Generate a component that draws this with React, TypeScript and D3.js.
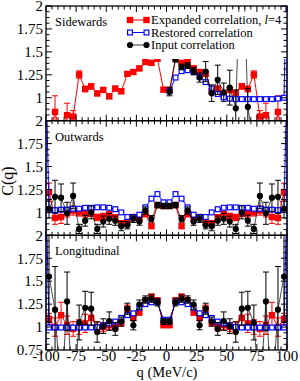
import React from "react";
import * as d3 from "d3";

// q bins (MeV/c)
const Q = [-97.5,-92.5,-87.5,-82.5,-77.5,-72.5,-67.5,-62.5,-57.5,-52.5,-47.5,-42.5,-37.5,-32.5,-27.5,-22.5,-17.5,-12.5,-7.5,-2.5,
  2.5,7.5,12.5,17.5,22.5,27.5,32.5,37.5,42.5,47.5,52.5,57.5,62.5,67.5,72.5,77.5,82.5,87.5,92.5,97.5];

// Sidewards
const sideExp = [0.55,0.846,0.55,0.81,0.795,1.253,1.095,1.124,1.047,1.085,1.015,1.10,1.07,1.26,1.28,1.32,1.39,1.38,1.425,1.088,
  1.088,1.425,1.38,1.39,1.32,1.28,1.26,1.07,1.10,1.015,1.085,1.047,1.124,1.095,1.253,0.795,0.81,0.55,0.846,0.55];
const sideExpErr = [0,0.175,0,0.13,0.065,0.04,0.03,0.03,0.025,0.025,0.025,0.025,0.025,0.025,0.025,0.025,0.025,0.025,0.025,0.02,
  0.02,0.025,0.025,0.025,0.025,0.025,0.025,0.025,0.025,0.025,0.025,0.025,0.03,0.03,0.04,0.065,0.13,0,0.175,0];
const sideRes = [null,null,null,null,null,null,null,null,null,null,null,null,null,null,null,null,null,null,null,null,
  1.07,1.22,1.29,1.30,1.28,1.23,1.17,1.10,1.04,1.005,0.99,0.985,0.985,0.985,0.985,0.985,0.985,0.985,0.99,1.0];
const sideResEdgeL: number[] = [];
const sideResEdgeR = [2.5, 0.5];
const sideInp = [null,null,null,null,null,null,null,null,null,null,null,null,null,null,null,null,null,null,null,null,
  1.066,1.42,1.335,1.35,1.29,1.22,1.285,1.05,1.195,1.06,1.11,0.885,3.0,0.9,0.5,null,null,null,null,null];
const sideInpErr = [0,0,0,0,0,0,0,0,0,0,0,0,0,0,0,0,0,0,0,0,
  0.045,0.03,0.03,0.03,0.04,0.05,0.11,0.09,0.16,0.1,0.19,0.2,0,0.2,0,0,0,0,0,0];

// Outwards
const outExp = [1.22,0.94,0.95,1.0,1.02,1.0,0.99,0.99,0.945,0.96,0.98,0.945,0.88,0.89,0.95,0.93,0.98,0.85,1.08,1.07,
  1.07,1.08,0.85,0.98,0.93,0.95,0.89,0.88,0.945,0.98,0.96,0.945,0.99,0.99,1.0,1.02,1.0,0.95,0.94,1.22];
const outExpErr = [0.1,0.07,0.07,0.05,0.05,0.04,0.04,0.035,0.035,0.03,0.03,0.03,0.03,0.03,0.025,0.025,0.025,0.025,0.02,0.02,
  0.02,0.02,0.025,0.025,0.025,0.025,0.03,0.03,0.03,0.03,0.03,0.035,0.035,0.04,0.04,0.05,0.05,0.07,0.07,0.1];
const outRes = [1.025,1.025,1.03,1.03,1.04,1.04,1.05,1.05,1.055,1.055,1.05,1.035,1.0,0.95,0.95,0.975,1.055,1.15,1.2,1.11,
  1.11,1.2,1.15,1.055,0.975,0.95,0.95,1.0,1.035,1.05,1.055,1.055,1.05,1.05,1.04,1.04,1.03,1.03,1.025,1.025];
const outResEdgeL = [0.5, 2.5];
const outResEdgeR = [2.5, 0.5];
const outInp = [1.04,1.17,1.16,0.99,1.18,0.82,0.91,1.0,0.82,0.90,0.93,0.91,0.85,0.86,0.93,0.90,1.02,0.93,1.08,1.07,
  1.07,1.08,0.93,1.02,0.90,0.93,0.86,0.85,0.91,0.93,0.90,0.82,1.0,0.91,0.82,1.18,0.99,1.16,1.17,1.04];
const outInpErr = [0.1,0.18,0.15,0.12,0.14,0.05,0.06,0.07,0.05,0.06,0.06,0.05,0.05,0.04,0.04,0.04,0.04,0.035,0.03,0.03,
  0.03,0.03,0.035,0.04,0.04,0.04,0.04,0.05,0.05,0.06,0.06,0.05,0.07,0.06,0.05,0.14,0.12,0.15,0.18,0.1];

// Longitudinal
const longExp = [1.09,1.0,1.13,1.02,0.98,1.0,1.04,1.1,1.0,1.0,1.02,1.0,1.05,1.2,1.1,1.16,1.29,1.33,1.29,1.02,
  1.02,1.29,1.33,1.29,1.16,1.1,1.2,1.05,1.0,1.02,1.0,1.0,1.1,1.04,1.0,0.98,1.02,1.13,1.0,1.09];
const longExpErr = [0.06,0.1,0.14,0.1,0.08,0.08,0.1,0.09,0.06,0.05,0.05,0.04,0.04,0.04,0.03,0.03,0.03,0.03,0.03,0.02,
  0.02,0.03,0.03,0.03,0.03,0.03,0.04,0.04,0.04,0.05,0.05,0.06,0.09,0.1,0.08,0.08,0.1,0.14,0.1,0.06];
const longRes = [0.995,0.995,0.995,0.995,0.995,0.995,0.995,0.995,1.0,1.02,1.04,1.06,1.1,1.13,1.15,1.21,1.25,1.27,1.27,1.08,
  1.08,1.27,1.27,1.25,1.21,1.15,1.13,1.1,1.06,1.04,1.02,1.0,0.995,0.995,0.995,0.995,0.995,0.995,0.995,0.995];
const longResEdgeL = [0.5, 2.5];
const longResEdgeR = [2.5, 0.5];
const longInp = [1.55,1.19,0.2,1.28,0.2,1.05,1.21,1.2,0.945,1.01,1.065,0.98,1.06,1.2,1.02,1.245,1.3,1.31,1.27,1.06,
  1.06,1.27,1.31,1.3,1.245,1.02,1.2,1.06,0.98,1.065,1.01,0.945,1.2,1.21,1.05,0.2,1.28,0.2,1.19,1.55];
const longInpErr = [0.5,0.47,0,0.32,0,0.19,0.18,0.18,0.11,0.08,0.1,0.07,0.05,0.06,0.05,0.05,0.04,0.04,0.04,0.03,
  0.03,0.04,0.04,0.04,0.05,0.05,0.06,0.05,0.07,0.1,0.08,0.11,0.18,0.18,0.19,0,0.32,0,0.47,0.5];

const panelNames = ["Sidewards", "Outwards", "Longitudinal"];
const legendLabels = ["Expanded correlation, ", "Restored correlation", "Input correlation"];
const xTickLabels = [-100, -75, -50, -25, 0, 25, 50, 75, 100];
const yTickLabels = [0.75, 1, 1.25, 1.5, 1.75, 2];

const FONT = "'Liberation Serif','Times New Roman',Times,serif";
const L = 46, R = 287, T = 6, B = 350;
const PH = (B - T) / 3;
const RED = "#ff0000", BLUE = "#0000ff", BLACK = "#000000";

type Pt = { q: number; v: number; e: number };
const pts = (vals: (number | null)[], errs?: number[]): Pt[] =>
  Q.map((q, i) => ({ q, v: vals[i] as number, e: errs ? errs[i] : 0 })).filter((d) => d.v != null);

const panels = [
  { exp: sideExp, expErr: sideExpErr, res: sideRes, edgeL: sideResEdgeL, edgeR: sideResEdgeR, inp: sideInp, inpErr: sideInpErr },
  { exp: outExp, expErr: outExpErr, res: outRes, edgeL: outResEdgeL, edgeR: outResEdgeR, inp: outInp, inpErr: outInpErr },
  { exp: longExp, expErr: longExpErr, res: longRes, edgeL: longResEdgeL, edgeR: longResEdgeR, inp: longInp, inpErr: longInpErr },
];

export default function App() {
  const x = d3.scaleLinear().domain([-100, 100]).range([L, R]);
  const xMinor = d3.range(-100, 100.01, 5);
  const yMinor = d3.range(0.75, 2.001, 0.0625);

  return (
    <svg width={300} height={381} style={{ position: "absolute", left: 0, top: 0, background: "#fff" }} fontFamily={FONT}>
      <rect x={0} y={0} width={300} height={381} fill="#fff" />
      {panels.map((p, pi) => {
        const top = T + pi * PH;
        const bot = top + PH;
        const y = d3.scaleLinear().domain([0.75, 2]).range([bot, top]);
        const line = d3.line<Pt>().x((d) => x(d.q)).y((d) => y(d.v));
        const expPts = pts(p.exp, p.expErr);
        const resPts = pts(p.res);
        const resLinePts: Pt[] = [
          ...p.edgeL.map((v) => ({ q: -100, v, e: 0 })),
          ...resPts,
          ...p.edgeR.map((v) => ({ q: 100, v, e: 0 })),
        ];
        const inpPts = pts(p.inp, p.inpErr);
        const clipId = `clip${pi}`;
        const errBars = (data: Pt[], color: string, cap: number) =>
          data.filter((d) => d.e > 0).map((d, i) => {
            const cx = x(d.q);
            const y1 = y(d.v + d.e), y2 = y(d.v - d.e);
            return (
              <g key={i} stroke={color} strokeWidth={1}>
                <line x1={cx} x2={cx} y1={y1} y2={y2} />
                <line x1={cx - cap} x2={cx + cap} y1={y1} y2={y1} />
                <line x1={cx - cap} x2={cx + cap} y1={y2} y2={y2} />
              </g>
            );
          });
        return (
          <g key={pi}>
            <defs>
              <clipPath id={clipId}>
                <rect x={L - 1} y={top} width={R - L + 2} height={PH} />
              </clipPath>
            </defs>
            <g clipPath={`url(#${clipId})`}>
              {/* expanded */}
              <path d={line(expPts) || ""} fill="none" stroke={RED} strokeWidth={1} />
              {errBars(expPts, RED, 3)}
              {expPts.map((d, i) => (
                <rect key={i} x={x(d.q) - 3.2} y={y(d.v) - 3.2} width={6.4} height={6.4} fill={RED} />
              ))}
              {/* restored */}
              <path d={line(resLinePts) || ""} fill="none" stroke={BLUE} strokeWidth={1} />
              {resPts.map((d, i) => (
                <rect key={i} x={x(d.q) - 2.4} y={y(d.v) - 2.4} width={4.8} height={4.8} fill="#fff" stroke={BLUE} strokeWidth={1.2} />
              ))}
              {/* input */}
              <path d={line(inpPts) || ""} fill="none" stroke={BLACK} strokeWidth={0.7} />
              {errBars(inpPts, BLACK, 3)}
              {inpPts.map((d, i) => (
                <circle key={i} cx={x(d.q)} cy={y(d.v)} r={3.1} fill={BLACK} />
              ))}
              {/* legend box (white fill) */}
              {pi === 0 && <rect x={124} y={top + 6} width={R - 124} height={47} fill="#fff" />}
            </g>
            {/* frame */}
            <rect x={L} y={top} width={R - L} height={PH} fill="none" stroke={BLACK} strokeWidth={1.3} />
            {/* x ticks top & bottom */}
            {xMinor.map((v, i) => {
              const major = Math.abs(v % 25) < 1e-6;
              const len = major ? 6 : 3.5;
              return (
                <g key={"xt" + i} stroke={BLACK} strokeWidth={1}>
                  <line x1={x(v)} x2={x(v)} y1={bot} y2={bot - len} />
                  <line x1={x(v)} x2={x(v)} y1={top} y2={top + len} />
                </g>
              );
            })}
            {/* y ticks left & right */}
            {yMinor.map((v, i) => {
              const major = Math.abs((v * 4) - Math.round(v * 4)) < 1e-6;
              const len = major ? 6 : 3.5;
              return (
                <g key={"yt" + i} stroke={BLACK} strokeWidth={1}>
                  <line x1={L} x2={L + len} y1={y(v)} y2={y(v)} />
                  <line x1={R} x2={R - len} y1={y(v)} y2={y(v)} />
                </g>
              );
            })}
            {yTickLabels
              .filter((v) => v !== 0.75 || pi === 2)
              .map((v) => (
                <text key={"yl" + v} x={43} y={y(v)} dy="0.35em" textAnchor="end" fontSize={15} fill={BLACK}>
                  {String(v)}
                </text>
              ))}
            <text x={55} y={top + 20} fontSize={12.5} fill={BLACK}>{panelNames[pi]}</text>
          </g>
        );
      })}
      {/* x tick labels */}
      {xTickLabels.map((v) => (
        <text key={"xl" + v} x={x(v)} y={361} textAnchor="middle" fontSize={15} fill={BLACK}>
          {String(v)}
        </text>
      ))}
      <text x={167} y={377} textAnchor="middle" fontSize={14.5} fill={BLACK}>q (MeV/c)</text>
      <text transform="translate(13,181) rotate(-90)" textAnchor="middle" fontSize={16} fill={BLACK}>C(q)</text>
      {/* legend */}
      {[RED, BLUE, BLACK].map((c, i) => {
        const ly = 20 + i * 12.5;
        return (
          <g key={"lg" + i}>
            <line x1={130} x2={146.5} y1={ly} y2={ly} stroke={c} strokeWidth={i === 2 ? 0.8 : 1} />
            {i === 0 && [130, 146.5].map((lx) => <rect key={lx} x={lx - 3.2} y={ly - 3.2} width={6.4} height={6.4} fill={RED} />)}
            {i === 1 && [130, 146.5].map((lx) => <rect key={lx} x={lx - 2.4} y={ly - 2.4} width={4.8} height={4.8} fill="#fff" stroke={BLUE} strokeWidth={1.2} />)}
            {i === 2 && [130, 146.5].map((lx) => <circle key={lx} cx={lx} cy={ly} r={3.1} fill={BLACK} />)}
            <text x={151} y={ly + 4.3} fontSize={12.5} fill={BLACK}>
              {legendLabels[i]}
              {i === 0 && (
                <>
                  <tspan fontStyle="italic">l</tspan>=4
                </>
              )}
            </text>
          </g>
        );
      })}
    </svg>
  );
}
